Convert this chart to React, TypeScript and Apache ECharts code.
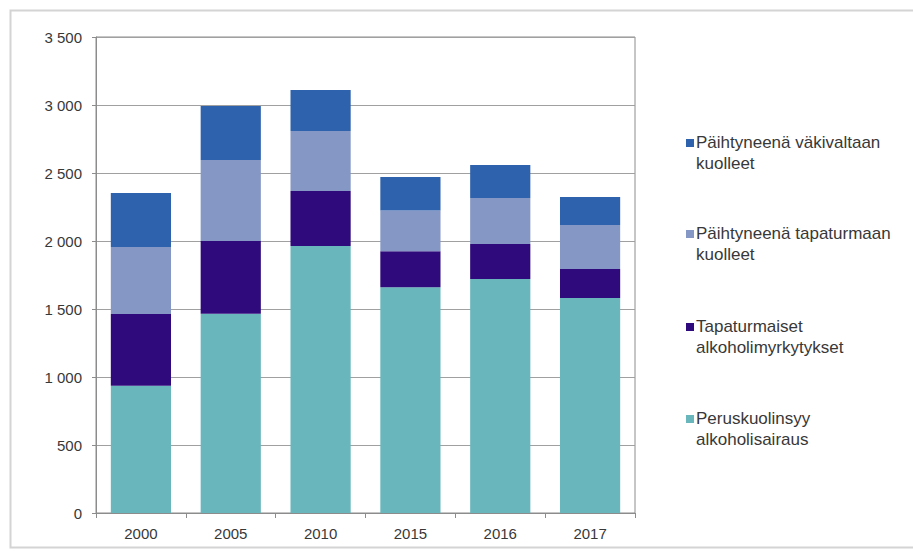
import React, { useEffect, useRef } from "react";
import * as echarts from "echarts";

const categories = ["2000", "2005", "2010", "2015", "2016", "2017"];
const seriesNames = [
  "Peruskuolinsyy\nalkoholisairaus",
  "Tapaturmaiset\nalkoholimyrkytykset",
  "Päihtyneenä tapaturmaan\nkuolleet",
  "Päihtyneenä väkivaltaan\nkuolleet",
];
const disease = [935, 1465, 1963, 1660, 1720, 1580];
const poisoning = [528, 535, 405, 265, 258, 214];
const accident = [493, 596, 441, 300, 338, 324];
const violence = [397, 397, 301, 245, 243, 206];
const colors = ["#69b7bc", "#2f0a7c", "#8597c5", "#2f62ad"];
const yTicks = [0, 500, 1000, 1500, 2000, 2500, 3000, 3500];

export default function App() {
  const ref = useRef<HTMLDivElement>(null);
  useEffect(() => {
    if (!ref.current) return;
    const chart = echarts.init(ref.current, undefined, { renderer: "svg" });
    const values = [disease, poisoning, accident, violence];
    const fmt = (v: number) => String(v).replace(/\B(?=(\d{3})+(?!\d))/g, " ");
    const legendTop = [127, 218, 311, 403];
    const icon = "path://M0,7h8v8h-8z M0,0h0.01v0.01h-0.01z M7.99,42h0.01v0.01h-0.01z";
    chart.setOption({
      animation: false,
      backgroundColor: "#ffffff",
      textStyle: { fontFamily: "Liberation Sans, Arial, sans-serif" },
      grid: {
        left: 96,
        right: 278,
        top: 37,
        bottom: 39,
        show: true,
        borderColor: "#8c8c8c",
        borderWidth: 1,
      },
      xAxis: {
        type: "category",
        data: categories,
        axisLine: { lineStyle: { color: "#8c8c8c", width: 1 } },
        axisTick: { show: true, alignWithLabel: false, length: 5, lineStyle: { color: "#8c8c8c" } },
        axisLabel: { color: "#383838", fontSize: 15, margin: 13 },
      },
      yAxis: {
        type: "value",
        min: yTicks[0],
        max: yTicks[yTicks.length - 1],
        interval: 500,
        axisLine: { show: true, lineStyle: { color: "#8c8c8c", width: 1 } },
        axisTick: { show: true, length: 4, lineStyle: { color: "#8c8c8c" } },
        axisLabel: { color: "#383838", fontSize: 15, margin: 14, formatter: (v: number) => fmt(v) },
        splitLine: { show: true, lineStyle: { color: "#a0a0a0", width: 1 } },
      },
      legend: seriesNames.map((name, i) => ({
        show: true,
        data: [name],
        left: 681,
        top: legendTop[3 - i],
        orient: "vertical",
        itemWidth: 8,
        itemHeight: 42,
        itemGap: 4,
        icon,
        textStyle: { color: "#383838", fontSize: 17, lineHeight: 21, padding: [0, 0, 0, -3] },
      })),
      graphic: [
        {
          type: "rect",
          shape: { x: 10.5, y: 10.5, width: 920, height: 537 },
          style: { fill: "none", stroke: "#d4d4d4", lineWidth: 2 },
          silent: true,
        },
      ],
      series: seriesNames.map((name, i) => ({
        name,
        type: "bar",
        stack: "total",
        barWidth: "67%",
        data: values[i],
        itemStyle: { color: colors[i] },
      })),
    });
    return () => chart.dispose();
  }, []);
  return (
    <div
      ref={ref}
      style={{ position: "fixed", left: 0, top: 0, width: 913, height: 552 }}
    />
  );
}
